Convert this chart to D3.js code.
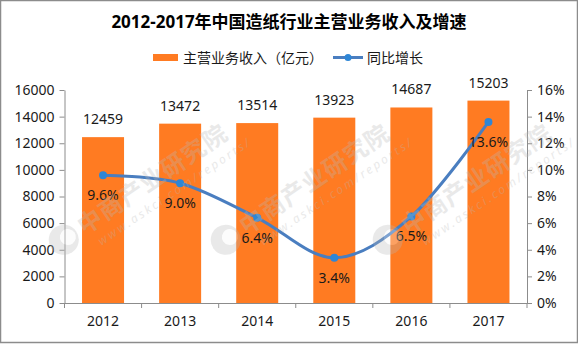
<!DOCTYPE html>
<html>
<head>
<meta charset="utf-8">
<script src="https://cdn.jsdelivr.net/npm/d3@7"></script>
<style>
  html, body { margin: 0; padding: 0; background: #fff; }
  svg { display: block; }
  text { font-family: "Noto Sans", "Noto Sans CJK SC", sans-serif; }
</style>
</head>
<body>
<svg id="chart" width="578" height="344"></svg>
<script>
// Paper industry revenue (100 million yuan) and year-on-year growth (%)
const years = ["2012", "2013", "2014", "2015", "2016", "2017"];
const revenue = [12459, 13472, 13514, 13923, 14687, 15203];
const growth = [9.6, 9.0, 6.4, 3.4, 6.5, 13.6];
const revenueTicks = [0, 2000, 4000, 6000, 8000, 10000, 12000, 14000, 16000];
const growthTicks = [0, 2, 4, 6, 8, 10, 12, 14, 16];
const titleText = "2012-2017年中国造纸行业主营业务收入及增速";
const legendLabels = ["主营业务收入（亿元）", "同比增长"];
const watermarkText = "中商产业研究院";
const watermarkUrl = "www.askci.com/reports/";

const W = 578, H = 344;
const FONT = '"Noto Sans", "Noto Sans CJK SC", sans-serif';
const plot = { left: 64.5, right: 527, top: 90, bottom: 303 };
const barColor = "#ff7b22";
const lineColor = "#4a7ec0";
const dotColor = "#2e86d6";
const axisColor = "#8c8c8c";
const textColor = "#1a1a1a";

const svg = d3.select("#chart");

const x = d3.scaleBand()
  .domain(years)
  .range([plot.left, plot.right])
  .paddingInner(0.455)
  .paddingOuter(0.2275);
const yL = d3.scaleLinear().domain([0, 16000]).range([plot.bottom, plot.top]);
const yR = d3.scaleLinear().domain([0, 16]).range([plot.bottom, plot.top]);
const cx = d => x(d) + x.bandwidth() / 2;

// Bars
svg.append("g").selectAll("rect")
  .data(years)
  .join("rect")
  .attr("x", d => x(d))
  .attr("width", x.bandwidth())
  .attr("y", (d, i) => yL(revenue[i]))
  .attr("height", (d, i) => yL(0) - yL(revenue[i]))
  .attr("fill", barColor);

// Bar value labels
svg.append("g").selectAll("text")
  .data(years)
  .join("text")
  .attr("x", d => cx(d))
  .attr("y", (d, i) => yL(revenue[i]) - 13)
  .attr("text-anchor", "middle")
  .attr("font-size", 14)
  .attr("fill", textColor)
  .text((d, i) => revenue[i]);

// Left axis
const gL = svg.append("g")
  .attr("transform", `translate(${plot.left},0)`)
  .call(d3.axisLeft(yL).tickValues(revenueTicks).tickSize(5).tickSizeOuter(0).tickPadding(5).tickFormat(d3.format("d")));
// Right axis
const gR = svg.append("g")
  .attr("transform", `translate(${plot.right},0)`)
  .call(d3.axisRight(yR).tickValues(growthTicks).tickSize(5).tickSizeOuter(0).tickPadding(5).tickFormat(d => d + "%"));

[gL, gR].forEach(g => {
  g.select(".domain").attr("stroke", axisColor);
  g.selectAll(".tick line").attr("stroke", axisColor);
  g.selectAll(".tick text")
    .attr("font-size", 14)
    .attr("fill", textColor)
    .attr("font-family", FONT);
});

// Bottom axis: labels under band centres, ticks at band boundaries
const gB = svg.append("g")
  .attr("transform", `translate(0,${plot.bottom})`)
  .call(d3.axisBottom(x).tickSize(0).tickPadding(13));
gB.select(".domain").attr("stroke", axisColor);
gB.selectAll(".tick text")
  .attr("font-size", 14)
  .attr("fill", textColor)
  .attr("font-family", FONT);
const boundaries = years.map(d => x(d) - x.step() * x.paddingInner() / 2).concat([plot.right]);
boundaries[0] = plot.left;
gB.append("g").selectAll("line")
  .data(boundaries)
  .join("line")
  .attr("x1", d => d).attr("x2", d => d)
  .attr("y1", 0).attr("y2", 5)
  .attr("stroke", axisColor);

// Growth line (smoothed)
const pts = years.map((d, i) => [cx(d), yR(growth[i])]);
svg.append("path")
  .datum(pts)
  .attr("d", d3.line().curve(d3.curveCardinal.tension(0)))
  .attr("fill", "none")
  .attr("stroke", lineColor)
  .attr("stroke-width", 3)
  .attr("stroke-linecap", "round");

svg.append("g").selectAll("circle")
  .data(pts)
  .join("circle")
  .attr("cx", d => d[0])
  .attr("cy", d => d[1])
  .attr("r", 4)
  .attr("fill", dotColor);

svg.append("g").selectAll("text")
  .data(years)
  .join("text")
  .attr("x", d => cx(d))
  .attr("y", (d, i) => yR(growth[i]) + 25)
  .attr("text-anchor", "middle")
  .attr("font-size", 14)
  .attr("fill", textColor)
  .text((d, i) => growth[i].toFixed(1) + "%");

// Title
svg.append("text")
  .attr("x", 289)
  .attr("y", 28)
  .attr("text-anchor", "middle")
  .attr("font-size", 17)
  .attr("font-weight", "bold")
  .attr("fill", "#000")
  .text(titleText);

// Legend
const lg = svg.append("g");
lg.append("rect").attr("x", 153).attr("y", 54).attr("width", 25).attr("height", 7).attr("fill", barColor);
lg.append("text").attr("x", 183).attr("y", 62.5).attr("font-size", 14).attr("fill", textColor).text(legendLabels[0]);
lg.append("line").attr("x1", 333).attr("x2", 363).attr("y1", 57.5).attr("y2", 57.5)
  .attr("stroke", lineColor).attr("stroke-width", 3);
lg.append("circle").attr("cx", 348).attr("cy", 57.5).attr("r", 3.5).attr("fill", dotColor);
lg.append("text").attr("x", 367).attr("y", 62.5).attr("font-size", 14).attr("fill", textColor).text(legendLabels[1]);

// Watermarks across the plot area
const wmCenters = [[145, 185], [307, 185], [469, 185]];
const wm = svg.append("g").attr("pointer-events", "none");
wmCenters.forEach(([mx, my]) => {
  const g = wm.append("g").attr("transform", `translate(${mx},${my}) rotate(-34)`)
    .attr("fill", "#b8b8b8").attr("opacity", 0.3);
  g.append("circle").attr("cx", -98).attr("cy", 0).attr("r", 15);
  g.append("circle").attr("cx", -93).attr("cy", 0).attr("r", 8).attr("fill", "#fff").attr("opacity", 0.9);
  g.append("text").attr("x", -78).attr("y", 8).attr("font-size", 24).attr("font-weight", "bold")
    .attr("letter-spacing", 1).text(watermarkText);
  g.append("text").attr("x", -70).attr("y", 26).attr("font-size", 12).attr("font-style", "italic")
    .attr("letter-spacing", 2.5).text(watermarkUrl);
});

// Outer frame
svg.append("rect")
  .attr("x", 0.5).attr("y", 0.5).attr("width", W - 1).attr("height", H - 2)
  .attr("fill", "none").attr("stroke", axisColor).attr("stroke-width", 1.5);
</script>
</body>
</html>
